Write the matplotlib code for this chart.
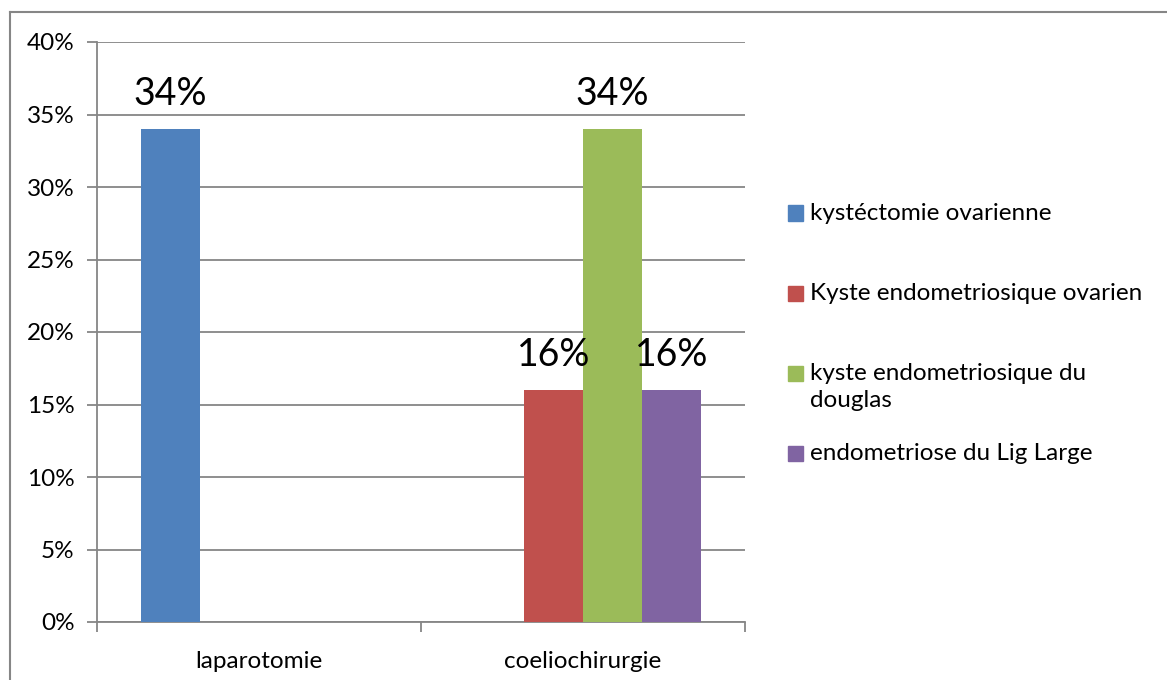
import matplotlib
matplotlib.use("Agg")
import matplotlib.pyplot as plt
from matplotlib.lines import Line2D
from matplotlib.patches import Rectangle
from matplotlib.ticker import FuncFormatter, MultipleLocator
import numpy as np

categories = ["laparotomie", "coeliochirurgie"]
series_names = [
    "kystéctomie ovarienne",
    "Kyste endometriosique ovarien",
    "kyste endometriosique du\ndouglas",
    "endometriose du Lig Large",
]
series_values = [
    [34, 0],
    [0, 16],
    [0, 34],
    [0, 16],
]
series_colors = ["#4F81BD", "#C0504D", "#9BBB59", "#8064A2"]

plt.rcParams["font.family"] = ["Lato", "DejaVu Sans"]

W, H = 1167, 680
fig = plt.figure(figsize=(W / 100, H / 100), dpi=100)
fig.patch.set_facecolor("white")

# axes box in pixel coordinates
x0, x1, y0, y1 = 97, 745, 42, 622
ax = fig.add_axes([x0 / W, 1 - y1 / H, (x1 - x0) / W, (y1 - y0) / H])

grid_col = "#868686"
n = len(series_names)
bar_w = 0.182
x = np.arange(len(categories))
for i, (name, vals, col) in enumerate(zip(series_names, series_values, series_colors)):
    pos = x + (i - (n - 1) / 2) * bar_w
    bars = ax.bar(pos, vals, width=bar_w, color=col, zorder=3, label=name)
    for b, v in zip(bars, vals):
        if v > 0:
            ax.text(b.get_x() + b.get_width() / 2, v + 1.15, f"{v}%",
                    ha="center", va="bottom", fontsize=27, color="black", zorder=4)

ax.set_xlim(-0.5, 1.5)
ax.set_ylim(0, 40)
ax.yaxis.set_major_locator(MultipleLocator(5))
ax.yaxis.set_major_formatter(FuncFormatter(lambda v, p: f"{int(v)}%"))
ax.grid(axis="y", color=grid_col, linewidth=1.3, zorder=0)
ax.set_axisbelow(True)

ax.set_xticks([-0.5, 0.5, 1.5])
ax.set_xticklabels([])
ax.set_xticks(x, minor=True)
ax.set_xticklabels(categories, minor=True)
ax.tick_params(axis="x", which="minor", length=0, pad=21, labelsize=17.5)
ax.tick_params(axis="x", which="major", length=7, width=1.3, color=grid_col, direction="out")
ax.tick_params(axis="y", length=7, width=1.3, color=grid_col, direction="out",
               labelsize=17.5, pad=9)

for s in ["top", "right"]:
    ax.spines[s].set_visible(False)
for s in ["left", "bottom"]:
    ax.spines[s].set_color(grid_col)
    ax.spines[s].set_linewidth(1.3)

# legend, laid out on the right
legend_y = [213, 293, 387, 453]
for name, col, yy in zip(series_names, series_colors, legend_y):
    sq_y = yy if "\n" not in name else yy - 14
    fig.patches.append(Rectangle((788 / W, 1 - (sq_y + 7.5) / H), 15 / W, 15 / H,
                                 transform=fig.transFigure, color=col))
    fig.text(810 / W, 1 - yy / H, name, ha="left", va="center",
             fontsize=17.5, linespacing=1.3)

# outer frame
fig.add_artist(Line2D([10 / W, 1], [1 - 12 / H, 1 - 12 / H], color=grid_col,
                      linewidth=1.5, transform=fig.transFigure))
fig.add_artist(Line2D([10 / W, 10 / W], [0, 1 - 12 / H], color=grid_col,
                      linewidth=1.5, transform=fig.transFigure))

fig.savefig("out.png", dpi=100, facecolor="white")
